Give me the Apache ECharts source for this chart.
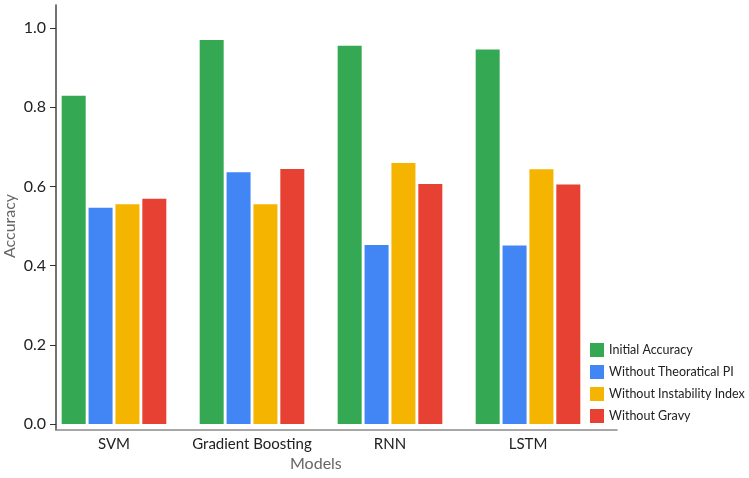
<!DOCTYPE html>
<html>
<head>
<meta charset="utf-8">
<script src="https://cdn.jsdelivr.net/npm/echarts@6/dist/echarts.min.js"></script>
<style>
  html, body { margin: 0; padding: 0; background: #fff; }
  #chart { width: 749px; height: 478px; }
</style>
</head>
<body>
<div id="chart"></div>
<script>
const models = ["SVM", "Gradient Boosting", "RNN", "LSTM"];
const initialAccuracy = [0.829, 0.970, 0.955, 0.946];
const withoutTheoreticalPI = [0.546, 0.636, 0.452, 0.451];
const withoutInstability = [0.555, 0.555, 0.659, 0.643];
const withoutGravy = [0.569, 0.644, 0.606, 0.605];
const yTicks = [0, 0.2, 0.4, 0.6, 0.8, 1.0];

const FONT = "Lato";
const colors = ["#34A853", "#4285F4", "#F4B400", "#E64133"];

const chart = echarts.init(document.getElementById("chart"), null, { renderer: "canvas" });

const bar = (name, data, color) => ({
  name,
  type: "bar",
  xAxisIndex: 0,
  yAxisIndex: 0,
  data,
  barWidth: 24,
  barGap: "12%",
  itemStyle: { color },
});

chart.setOption({
  animation: false,
  textStyle: { fontFamily: FONT },
  // x-axis title, placed below the category labels
  title: {
    text: "Models",
    left: 290,
    top: 456,
    padding: 0,
    textStyle: { fontSize: 16, fontWeight: "normal", color: "#666", fontFamily: FONT },
  },
  legend: {
    orient: "vertical",
    left: 585,
    top: 338,
    itemWidth: 14,
    itemHeight: 14,
    itemGap: 8,
    icon: "rect",
    textStyle: { fontFamily: FONT, fontSize: 12.5, color: "#222", overflow: "none" },
    data: ["Initial Accuracy", "Without Theoratical PI", "Without Instability Index", "Without Gravy"],
  },
  grid: [
    // plotting area
    { left: 45, right: 152, top: 28, bottom: 54, outerBoundsMode: "none", containLabel: false },
    // frame for axis lines
    { left: 56, right: 132, top: 5, bottom: 48, outerBoundsMode: "none", containLabel: false },
  ],
  xAxis: [
    {
      type: "category",
      gridIndex: 0,
      data: models,
      axisLine: { show: false },
      axisTick: { show: false },
      axisLabel: { interval: 0, margin: 13, fontSize: 15, color: "#222", fontFamily: FONT },
    },
    {
      type: "value",
      gridIndex: 1,
      min: 0,
      max: 1,
      axisLine: { show: true, lineStyle: { color: "#8a8a8a", width: 1.5 } },
      axisTick: { show: false },
      axisLabel: { show: false },
      splitLine: { show: false },
    },
  ],
  yAxis: [
    {
      type: "value",
      gridIndex: 0,
      min: 0,
      max: 1,
      interval: 0.2,
      offset: -11,
      axisLine: { show: false },
      axisTick: { show: true, length: 6, lineStyle: { color: "#333" } },
      axisLabel: {
        margin: 10,
        fontSize: 16,
        color: "#222",
        fontFamily: FONT,
        formatter: (v) => {
          const t = yTicks.find((x) => Math.abs(x - v) < 1e-6);
          return t === undefined ? "" : t.toFixed(1);
        },
      },
      splitLine: { show: false },
      name: "Accuracy",
      nameLocation: "middle",
      nameGap: 46,
      nameMoveOverlap: false,
      nameTextStyle: { fontSize: 16, color: "#666", fontFamily: FONT, verticalAlign: "middle" },
    },
    {
      type: "value",
      gridIndex: 1,
      min: 0,
      max: 1,
      axisLine: { show: true, lineStyle: { color: "#444", width: 1.5 } },
      axisTick: { show: false },
      axisLabel: { show: false },
      splitLine: { show: false },
    },
  ],
  series: [
    bar("Initial Accuracy", initialAccuracy, colors[0]),
    bar("Without Theoratical PI", withoutTheoreticalPI, colors[1]),
    bar("Without Instability Index", withoutInstability, colors[2]),
    bar("Without Gravy", withoutGravy, colors[3]),
  ],
});
</script>
</body>
</html>
